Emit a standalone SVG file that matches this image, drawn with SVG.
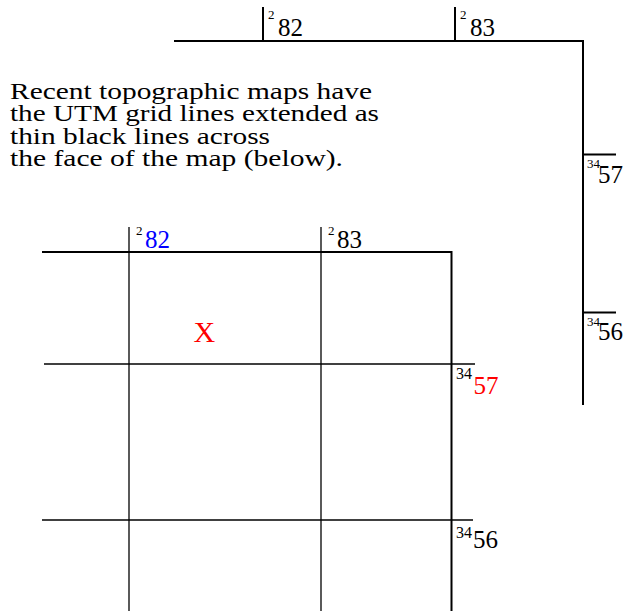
<svg xmlns="http://www.w3.org/2000/svg" width="636" height="611" viewBox="0 0 636 611">
<style>
text{font-family:'Liberation Serif',serif;fill:#000}
.big{font-size:25px}
.sup{font-size:13px}
.sup2{font-size:16px}
.para{font-size:23.5px}
.thick{stroke:#000;stroke-width:2;fill:none}
.thin{stroke:#000;stroke-width:1.3;fill:none}
</style>
<rect width="636" height="611" fill="#fff"/>
<g id="margin-scale">
<polyline class="thick" points="174,41 583,41 583,405"/>
<line class="thick" x1="263" y1="7" x2="263" y2="42"/>
<line class="thick" x1="455" y1="7" x2="455" y2="42"/>
<line class="thick" x1="583" y1="154.5" x2="616" y2="154.5"/>
<line class="thick" x1="583" y1="312.5" x2="616" y2="312.5"/>
<text class="sup" x="268" y="19" font-family="Liberation Serif">2</text>
<text class="big" x="278" y="36" font-family="Liberation Serif">82</text>
<text class="sup" x="460" y="19" font-family="Liberation Serif">2</text>
<text class="big" x="470" y="36" font-family="Liberation Serif">83</text>
<text class="sup" x="587" y="168" font-family="Liberation Serif">34</text>
<text class="big" x="598" y="182.5" font-family="Liberation Serif">57</text>
<text class="sup" x="587" y="326" font-family="Liberation Serif">34</text>
<text class="big" x="598" y="340" font-family="Liberation Serif">56</text>
</g>
<g id="caption">
<text class="para" x="10" y="98.5" textLength="362" lengthAdjust="spacingAndGlyphs" font-family="Liberation Serif">Recent topographic maps have</text>
<text class="para" x="10" y="121.1" textLength="369" lengthAdjust="spacingAndGlyphs" font-family="Liberation Serif">the UTM grid lines extended as</text>
<text class="para" x="10" y="143.7" textLength="260" lengthAdjust="spacingAndGlyphs" font-family="Liberation Serif">thin black lines across</text>
<text class="para" x="10" y="166.3" textLength="333" lengthAdjust="spacingAndGlyphs" font-family="Liberation Serif">the face of the map (below).</text>
</g>
<g id="grid">
<polyline class="thick" points="42,252 451.5,252 451.5,611"/>
<line class="thin" x1="129" y1="227" x2="129" y2="611"/>
<line class="thin" x1="321" y1="227" x2="321" y2="611"/>
<line class="thin" x1="44" y1="364" x2="475" y2="364"/>
<line class="thin" x1="42" y1="520" x2="473" y2="520"/>
<text class="sup" x="136" y="235" font-family="Liberation Serif">2</text>
<text class="big" x="145" y="247.5" font-family="Liberation Serif" style="fill:#0000ff">82</text>
<text class="sup" x="328" y="235" font-family="Liberation Serif">2</text>
<text class="big" x="337" y="247.5" font-family="Liberation Serif">83</text>
<text class="sup2" x="456" y="379" font-family="Liberation Serif">34</text>
<text class="big" x="473.5" y="394.3" font-family="Liberation Serif" style="fill:#ff0000">57</text>
<text class="sup2" x="456" y="538" font-family="Liberation Serif">34</text>
<text class="big" x="473" y="548.3" font-family="Liberation Serif">56</text>
</g>
<g id="mark">
<text x="193.5" y="342.3" font-size="30" font-family="Liberation Serif" style="fill:#ff0000">X</text>
</g>
</svg>
